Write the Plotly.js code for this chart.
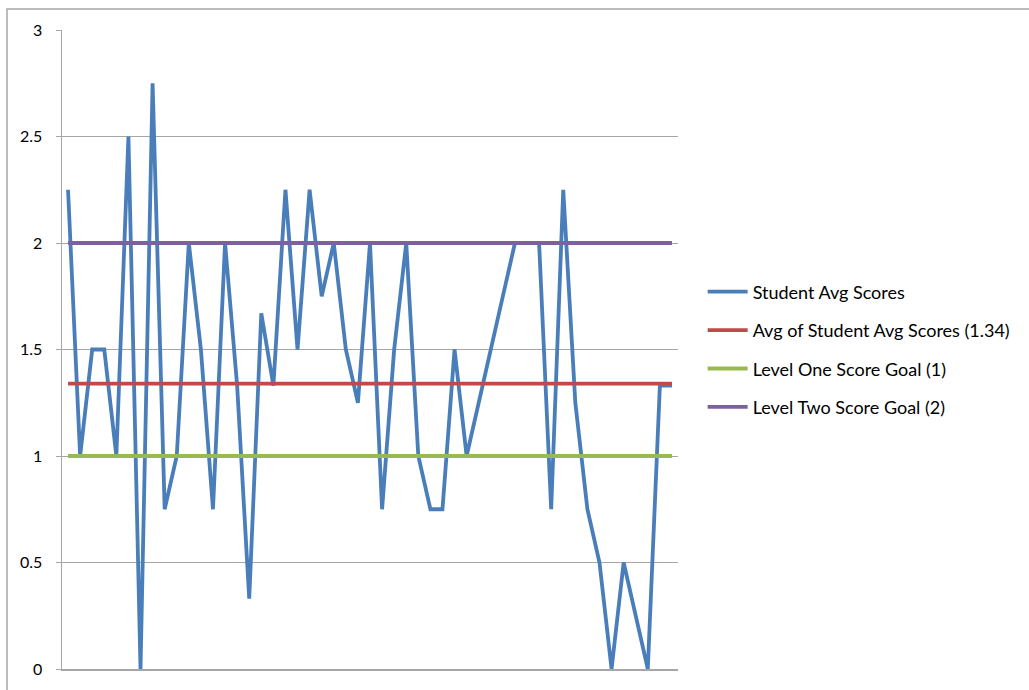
<!DOCTYPE html>
<html>
<head>
<meta charset="utf-8">
<script src="https://cdn.plot.ly/plotly-3.0.1.min.js"></script>
<style>
  html, body { margin: 0; padding: 0; background: #ffffff; }
  #chart { width: 1029px; height: 690px; }
</style>
</head>
<body>
<div id="chart"></div>
<script>
// Student index (categories, no labels shown on the axis)
const students = Array.from({length: 51}, (_, i) => i + 1);

// Student average scores
const studentAvgScores = [
  2.25, 1, 1.5, 1.5, 1, 2.5, 0, 2.75, 0.75, 1,
  2, 1.5, 0.75, 2, 1.33, 0.33, 1.67, 1.33, 2.25, 1.5,
  2.25, 1.75, 2, 1.5, 1.25, 2, 0.75, 1.5, 2, 1,
  0.75, 0.75, 1.5, 1, 1.25, 1.5, 1.75, 2, 2, 2,
  0.75, 2.25, 1.25, 0.75, 0.5, 0, 0.5, 0.25, 0, 1.33, 1.33
];

const avgOfAvgs = 1.34;
const levelOneGoal = 1;
const levelTwoGoal = 2;

const seriesNames = [
  "Student Avg Scores",
  "Avg of Student Avg Scores (1.34)",
  "Level One Score Goal (1)",
  "Level Two Score Goal (2)"
];
const seriesColors = ["#4a7ebb", "#be4b48", "#98b954", "#7d60a0"];

const yTicks = [0, 0.5, 1, 1.5, 2, 2.5, 3];
const yTickText = ["0", "0.5", "1", "1.5", "2", "2.5", "3"];

const seriesValues = [
  studentAvgScores,
  students.map(() => avgOfAvgs),
  students.map(() => levelOneGoal),
  students.map(() => levelTwoGoal)
];

const traces = seriesValues.map((vals, k) => ({
  type: "scatter",
  mode: "lines",
  x: students,
  y: vals,
  name: seriesNames[k],
  legendgroup: "g" + k,
  line: { color: seriesColors[k], width: 3.8 },
  hoverinfo: "x+y+name"
}));

const FONT = "Lato, 'Open Sans', sans-serif";

const layout = {
  width: 1029,
  height: 690,
  margin: { l: 62, r: 351, t: 30, b: 21, pad: 0 },
  paper_bgcolor: "#ffffff",
  plot_bgcolor: "#ffffff",
  font: { family: FONT, size: 15, color: "#000000" },
  showlegend: true,
  legend: {
    x: 1.04, xanchor: "left",
    y: 0.50, yanchor: "middle",
    font: { family: FONT, size: 18, color: "#000000" },
    tracegroupgap: 12,
    itemwidth: 40,
    bgcolor: "rgba(0,0,0,0)",
    borderwidth: 0
  },
  xaxis: {
    range: [0.5, 51.5],
    showgrid: false,
    zeroline: false,
    showline: true,
    linecolor: "#a6a6a6",
    linewidth: 1.5,
    showticklabels: false,
    ticks: "",
    fixedrange: true
  },
  yaxis: {
    range: [0, 3],
    tickvals: yTicks,
    ticktext: yTickText,
    showgrid: true,
    gridcolor: "#a6a6a6",
    gridwidth: 1,
    zeroline: false,
    showline: true,
    linecolor: "#a6a6a6",
    linewidth: 1.5,
    ticks: "outside",
    ticklen: 5,
    tickcolor: "#a6a6a6",
    tickwidth: 1,
    ticklabelstandoff: 10,
    tickfont: { family: FONT, size: 16, color: "#000000" },
    fixedrange: true
  },
  shapes: [
    {
      type: "rect", xref: "paper", yref: "paper",
      x0: (7 - 62) / 616, x1: 1.8,
      y0: -0.2, y1: (669 - 9) / 639,
      line: { color: "#a6a6a6", width: 1.5 },
      fillcolor: "rgba(0,0,0,0)",
      layer: "below"
    }
  ]
};

Plotly.newPlot("chart", traces, layout, { displayModeBar: false, staticPlot: true });
</script>
</body>
</html>
